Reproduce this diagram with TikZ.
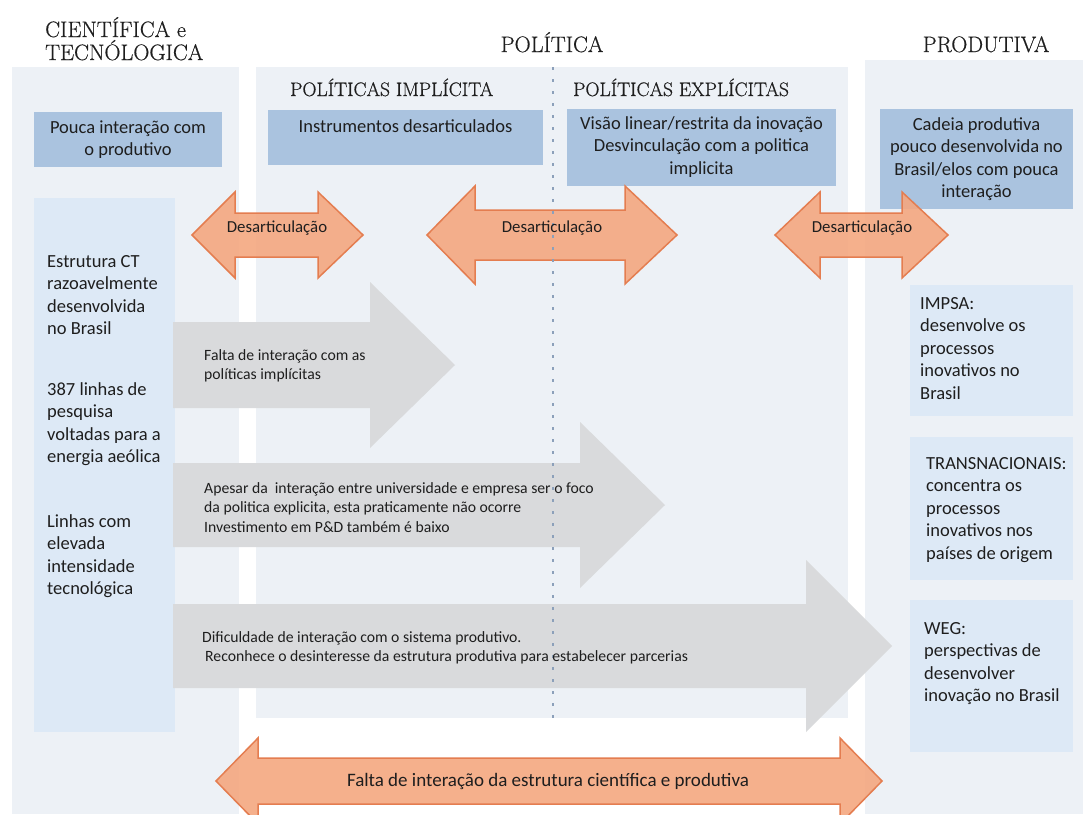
\documentclass[tikz,border=0pt]{standalone}
\usepackage{fontspec}
\setmainfont{Latin Modern Roman}
\newfontfamily\calib{Carlito}
\newfontfamily\hdrfont[FakeBold=0.5]{Latin Modern Roman}
\definecolor{panelc}{RGB}{237,241,246}
\definecolor{cBlue}{RGB}{170,195,223}
\definecolor{cLight}{RGB}{221,233,246}
\definecolor{cOrange}{RGB}{244,167,128}
\definecolor{cOrangeD}{RGB}{228,125,80}
\definecolor{cGrey}{RGB}{217,218,220}
\definecolor{cDot}{RGB}{140,160,186}
\definecolor{cText}{RGB}{30,30,30}
\newcommand\dblArrow[8]{%
  \path[#1] (#2,#6) -- (#3,#6-#8) -- (#3,#6-#7) -- (#4,#6-#7) -- (#4,#6-#8) -- (#5,#6)
    -- (#4,#6+#8) -- (#4,#6+#7) -- (#3,#6+#7) -- (#3,#6+#8) -- cycle;}
\newcommand\oneArrow[7]{%
  \path[#1] (#2,#5-#6) -- (#3,#5-#6) -- (#3,#5-#7) -- (#4,#5) -- (#3,#5+#7)
    -- (#3,#5+#6) -- (#2,#5+#6) -- cycle;}
\tikzset{
  panel/.style={fill=panelc, draw=none},
  bbox/.style={fill=cBlue, draw=none, inner sep=0pt, align=center, text=cText,
    font=\calib\fontsize{18.5}{22.5}\selectfont},
  lbox/.style={fill=cLight, draw=none},
  hdr/.style={font=\hdrfont\fontsize{22.3}{23}\selectfont, text=cText, align=left, inner sep=0pt},
  subhdr/.style={font=\hdrfont\fontsize{19.5}{21}\selectfont, text=cText, inner sep=0pt, anchor=base west},
  coltext/.style={font=\calib\fontsize{18.5}{22.5}\selectfont, text=cText, align=left,
    anchor=base west, inner sep=0pt},
  greytext/.style={font=\calib\fontsize{15.7}{19.5}\selectfont, text=cText, align=left,
    anchor=base west, inner sep=0pt},
  otext/.style={font=\calib\fontsize{16.8}{20}\selectfont, text=cText, inner sep=0pt},
  orangearrow/.style={fill=cOrange, fill opacity=0.9, draw=cOrangeD, line width=1.5pt, line join=miter},
  greyarrow/.style={fill=cGrey, draw=none},
  dotline/.style={cDot, line width=2.5pt, dash pattern=on 2.5pt off 9.5pt},
}
\begin{document}
\begin{tikzpicture}[x=1pt, y=-1pt]
\useasboundingbox (0,0) rectangle (1083,814);
% panels
\path[panel] (12,67) rectangle (239,814);
\path[panel] (256,67) rectangle (848,718);
\path[panel] (865,60) rectangle (1083,814);
% headers (base anchor = baseline of the last line)
\node[hdr, anchor=base west] (hct) at (45,60) {CIENTÍFICA e\\TECNÓLOGICA};
\node[hdr, anchor=base] (hpol) at (552,52) {POLÍTICA};
\node[hdr, anchor=base] (hprod) at (986,52) {PRODUTIVA};
\node[subhdr] (himp) at (290,96) {POLÍTICAS IMPLÍCITA};
\node[subhdr] (hexp) at (573,96) {POLÍTICAS EXPLÍCITAS};
% blue boxes
\node[bbox, minimum width=188, minimum height=55] (b1) at (128,139.5) {Pouca interação com\\o produtivo};
\node[bbox, minimum width=275, minimum height=55] (b2) at (405.5,137.5) {Instrumentos desarticulados\\\mbox{}};
\node[bbox, minimum width=269, minimum height=77] (b3) at (701.5,147) {Visão linear/restrita da inovação\\Desvinculação com a politica\\implicita};
\node[bbox, minimum width=193, minimum height=100] (b4) at (976.5,159) {Cadeia produtiva\\pouco desenvolvida no\\Brasil/elos com pouca\\interação};
% light boxes
\path[lbox] (34,198) rectangle (175,732);
\path[lbox] (910,285) rectangle (1073,416);
\path[lbox] (910,437) rectangle (1073,580);
\path[lbox] (910,600) rectangle (1073,752);
% grey arrows
\oneArrow{greyarrow}{173}{370}{455}{365}{43}{83}
\oneArrow{greyarrow}{173}{580}{665}{505}{42}{83}
\oneArrow{greyarrow}{173}{806}{892}{646}{42}{86}
% orange arrows
\dblArrow{orangearrow}{192}{235}{318}{363}{235}{22}{43}
\dblArrow{orangearrow}{427}{475}{625}{677}{235}{25}{49}
\dblArrow{orangearrow}{775}{820}{902}{948}{235}{22}{43}
\dblArrow{orangearrow}{216}{258}{840}{882}{781}{23}{43}
% dotted divider
\coordinate (dtop) at (553,67);
\coordinate (dbot) at (553,718);
\draw[dotline] (dtop) -- (dbot);
% column texts
\node[coltext] (l1) at (47,334.5) {Estrutura CT\\razoavelmente\\desenvolvida\\no Brasil};
\node[coltext] (l2) at (47,462.5) {387 linhas de\\pesquisa\\voltadas para a\\energia aeólica};
\node[coltext] (l3) at (47,594.5) {Linhas com\\elevada\\intensidade\\tecnológica};
\node[coltext] (r1) at (920,399) {IMPSA:\\desenvolve os\\processos\\inovativos no\\Brasil};
\node[coltext] (r2) at (926,559) {TRANSNACIONAIS:\\concentra os\\processos\\inovativos nos\\países de origem};
\node[coltext] (r3) at (924,701.5) {WEG:\\perspectivas de\\desenvolver\\inovação no Brasil};
% grey arrow texts
\node[greytext] (g1) at (204,379.5) {Falta de interação com as\\políticas implícitas};
\node[greytext] (g2) at (204,532) {Apesar da~~interação entre universidade e empresa ser o foco\\da politica explicita, esta praticamente não ocorre\\Investimento em P\&D também é baixo};
\node[greytext] (g3) at (202,661.5) {Dificuldade de interação com o sistema produtivo.\\\hspace*{3pt}Reconhece o desinteresse da estrutura produtiva para estabelecer parcerias};
% orange texts
\node[otext] (o1) at (277,228) {Desarticulação};
\node[otext] (o2) at (552,228) {Desarticulação};
\node[otext] (o3) at (862,228) {Desarticulação};
\node[otext, font=\calib\fontsize{19}{21}\selectfont] (o4) at (548,781) {Falta de interação da estrutura científica e produtiva};
\end{tikzpicture}
\end{document}
